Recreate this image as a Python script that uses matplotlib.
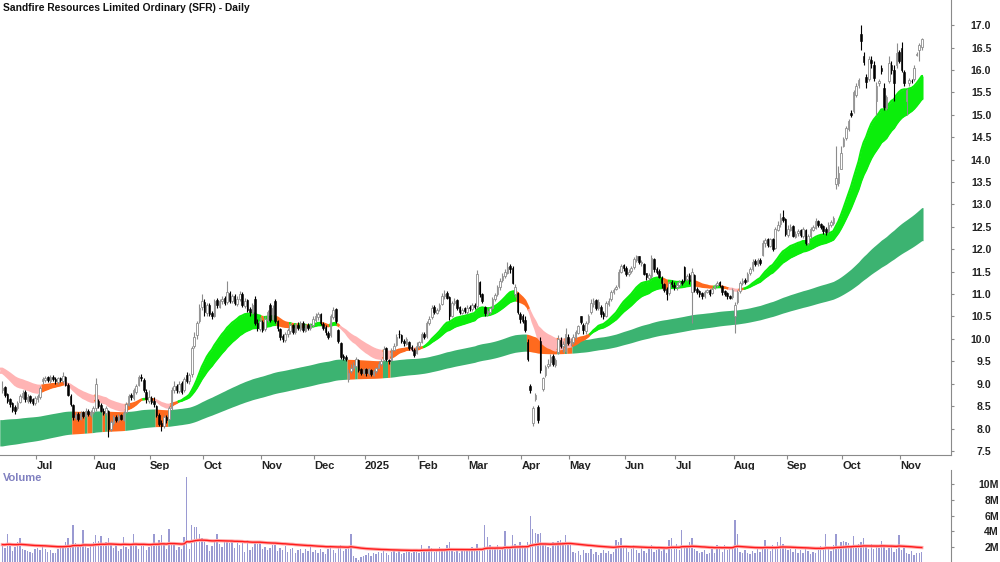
import numpy as np
import matplotlib
matplotlib.use("Agg")
import matplotlib.pyplot as plt

TITLE = "Sandfire Resources Limited Ordinary (SFR) - Daily"

# ---- daily OHLC (Jun-2024 .. Nov-2025), one row per month ----
open_px = [
 8.85, 8.92, 8.78, 8.65, 8.58, 8.48, 8.45, 8.60, 8.70, 8.82, 8.62, 8.72, 8.65, 8.56,
 8.66, 8.70, 9.05, 9.08, 9.14, 9.06, 9.16, 9.10, 9.04, 9.12, 9.05, 9.15, 8.98, 8.72, 8.52, 8.24, 8.32, 8.22, 8.36, 8.28, 8.40, 8.30, 8.36,
 8.45, 8.62, 8.52, 8.40, 8.34, 8.40, 8.00, 8.12, 8.26, 8.18, 8.30, 8.20, 8.38, 8.52, 8.74, 8.68, 8.82, 8.98, 9.16, 9.08, 8.82, 8.62,
 8.68, 8.62, 8.50, 8.30, 8.12, 8.06, 8.26, 8.22, 8.45, 8.86, 8.95, 8.84, 9.02, 8.85, 9.20, 9.05, 9.22, 9.85, 10.08, 10.40, 10.72,
 10.82, 10.58, 10.76, 10.58, 10.52, 10.86, 10.72, 10.84, 10.92, 10.82, 11.02, 10.84, 10.96, 10.78, 10.90, 11.00, 10.74, 10.86, 10.66, 10.58, 10.90, 10.36, 10.22,
 10.38, 10.22, 10.42, 10.75, 10.45, 10.85, 10.40, 10.22, 10.06, 9.98, 10.12, 10.18, 10.30, 10.16, 10.32, 10.22, 10.36, 10.18, 10.32, 10.24, 10.30,
 10.42, 10.48, 10.56, 10.34, 10.26, 10.14, 10.08, 10.48, 10.66, 10.20, 9.90, 9.62, 9.60, 9.10, 9.28, 9.36, 9.40, 9.52, 9.32, 9.24,
 9.32, 9.24, 9.30, 9.20, 9.28, 9.36, 9.44, 9.52, 9.80, 9.54, 9.52, 9.76, 9.86, 10.12, 10.08, 9.96, 9.88, 9.92, 9.82, 9.76, 9.68,
 9.84, 9.94, 10.12, 10.06, 10.36, 10.48, 10.72, 10.58, 10.66, 10.78, 10.96, 11.02, 10.94, 10.52, 10.80, 10.86, 10.72, 10.58, 10.68, 10.60,
 10.72, 10.66, 10.76, 10.74, 11.28, 11.00, 10.72, 10.56, 10.60, 10.70, 10.88, 11.00, 11.16, 11.32, 11.40, 11.48, 11.62, 11.58, 11.00, 11.02, 10.55,
 10.50, 10.42, 9.94, 8.95, 8.12, 8.65, 8.48, 9.95, 8.88, 9.20, 9.40, 9.48, 9.62, 9.42, 9.70, 9.98, 9.84, 9.72, 10.05,
 9.92, 9.94, 10.04, 10.14, 10.50, 10.30, 10.18, 10.38, 10.60, 10.78, 10.86, 10.68, 10.72, 10.58, 10.52, 10.78, 10.88, 11.04, 11.12, 11.18, 11.50, 11.64,
 11.58, 11.44, 11.52, 11.60, 11.76, 11.84, 11.70, 11.68, 11.46, 11.36, 11.40, 11.78, 11.56, 11.52, 11.36, 11.22, 11.12, 11.02, 11.26, 11.20,
 11.16, 11.20, 11.30, 11.60, 11.34, 11.42, 11.05, 11.42, 11.12, 11.06, 11.02, 10.96, 11.04, 11.10, 11.02, 11.14, 11.20, 11.28, 11.18, 11.06, 11.02, 10.96, 10.94,
 10.50, 10.82, 11.06, 11.24, 11.32, 11.30, 11.46, 11.56, 11.74, 11.66, 11.76, 11.88, 12.14, 12.22, 12.08, 12.22, 12.02, 12.44, 12.56, 12.72, 12.68,
 12.32, 12.44, 12.52, 12.28, 12.36, 12.42, 12.30, 12.42, 12.14, 12.30, 12.44, 12.48, 12.64, 12.56, 12.52, 12.46, 12.40, 12.54, 12.58, 13.45, 13.48, 13.80,
 14.30, 14.48, 14.68, 15.05, 15.08, 15.45, 15.66, 16.80, 16.30, 15.85, 15.80, 16.22, 16.10, 15.30, 15.70, 16.05, 15.60, 15.15, 15.75, 16.12, 16.00, 16.10, 16.40,
 16.50, 15.95, 15.30, 15.70, 15.76, 15.80, 16.33, 16.45, 16.52,
]
high_px = [
 9.05, 8.95, 8.80, 8.68, 8.60, 8.52, 8.62, 8.78, 8.85, 8.85, 8.76, 8.75, 8.68, 8.72,
 8.78, 8.95, 9.14, 9.18, 9.17, 9.20, 9.20, 9.14, 9.16, 9.15, 9.26, 9.18, 9.02, 8.78, 8.55, 8.36, 8.36, 8.40, 8.40, 8.45, 8.44, 8.42, 8.50,
 9.12, 8.66, 8.56, 8.45, 8.50, 8.42, 8.20, 8.30, 8.30, 8.32, 8.32, 8.40, 8.60, 8.78, 8.80, 8.90, 9.00, 9.20, 9.22, 9.12, 8.88, 8.86,
 8.72, 8.70, 8.52, 8.34, 8.18, 8.30, 8.30, 8.50, 8.92, 9.05, 9.00, 9.06, 9.06, 9.15, 9.26, 9.24, 9.84, 10.15, 10.40, 10.78, 11.00,
 10.88, 10.80, 10.80, 10.62, 10.90, 10.92, 10.90, 10.95, 10.96, 11.30, 11.06, 11.00, 11.00, 10.96, 11.06, 11.05, 10.92, 10.90, 10.72, 10.80, 10.95, 10.45, 10.48,
 10.42, 10.50, 10.65, 10.80, 10.75, 10.90, 10.42, 10.25, 10.10, 10.15, 10.24, 10.35, 10.34, 10.35, 10.38, 10.40, 10.40, 10.34, 10.36, 10.36, 10.52,
 10.58, 10.60, 10.58, 10.38, 10.30, 10.18, 10.55, 10.72, 10.68, 10.22, 9.92, 9.66, 9.64, 9.32, 9.45, 9.48, 9.60, 9.55, 9.36, 9.35,
 9.36, 9.36, 9.32, 9.32, 9.38, 9.50, 9.55, 9.84, 9.82, 9.56, 9.80, 9.90, 10.10, 10.20, 10.12, 10.00, 10.05, 9.95, 9.86, 9.80, 9.92,
 9.96, 10.16, 10.15, 10.40, 10.52, 10.76, 10.75, 10.70, 10.80, 11.02, 11.10, 11.06, 10.96, 10.85, 10.92, 10.90, 10.74, 10.70, 10.72, 10.76,
 10.76, 10.80, 10.80, 11.54, 11.30, 11.02, 10.74, 10.66, 10.72, 10.94, 11.02, 11.20, 11.36, 11.46, 11.56, 11.72, 11.68, 11.62, 11.22, 11.05, 10.60,
 10.55, 10.50, 10.00, 9.00, 8.50, 8.80, 8.52, 10.05, 9.16, 9.42, 9.55, 9.66, 9.66, 9.58, 10.08, 10.05, 9.95, 10.25, 10.12,
 10.02, 10.10, 10.20, 10.32, 10.52, 10.36, 10.40, 10.56, 10.90, 10.92, 10.88, 10.88, 10.75, 10.62, 10.84, 10.92, 11.10, 11.14, 11.20, 11.57, 11.68, 11.68,
 11.62, 11.56, 11.62, 11.82, 11.88, 11.86, 11.76, 11.70, 11.48, 11.46, 11.87, 11.80, 11.60, 11.55, 11.40, 11.25, 11.16, 11.30, 11.31, 11.26,
 11.26, 11.32, 11.34, 11.62, 11.45, 11.46, 11.58, 11.45, 11.15, 11.10, 11.05, 11.10, 11.12, 11.12, 11.16, 11.22, 11.30, 11.30, 11.20, 11.08, 11.04, 10.98, 11.14,
 10.82, 11.10, 11.30, 11.36, 11.35, 11.50, 11.60, 11.78, 11.78, 11.80, 11.80, 12.20, 12.26, 12.26, 12.26, 12.25, 12.50, 12.62, 12.80, 12.87, 12.70,
 12.54, 12.56, 12.54, 12.40, 12.46, 12.45, 12.50, 12.45, 12.35, 12.50, 12.54, 12.69, 12.66, 12.58, 12.55, 12.50, 12.60, 12.65, 12.75, 14.30, 13.85, 14.30,
 14.50, 14.75, 14.90, 15.10, 15.56, 15.70, 15.82, 17.00, 16.40, 15.90, 16.30, 16.30, 16.20, 15.72, 15.80, 16.10, 15.70, 15.45, 16.30, 16.20, 16.10, 16.60, 16.45,
 16.62, 16.00, 15.60, 15.82, 15.80, 16.10, 16.40, 16.60, 16.72,
]
low_px = [
 8.80, 8.70, 8.58, 8.48, 8.38, 8.33, 8.42, 8.56, 8.65, 8.60, 8.58, 8.58, 8.52, 8.52,
 8.60, 8.66, 9.00, 9.04, 9.04, 9.02, 9.06, 9.00, 9.00, 9.04, 9.02, 8.95, 8.72, 8.50, 8.18, 8.20, 8.16, 8.20, 8.24, 8.25, 8.28, 8.26, 8.32,
 8.40, 8.45, 8.36, 8.30, 8.30, 7.82, 7.95, 8.08, 8.15, 8.14, 8.18, 8.16, 8.35, 8.50, 8.64, 8.64, 8.78, 8.95, 9.05, 8.82, 8.58, 8.58,
 8.55, 8.48, 8.25, 8.05, 7.95, 8.02, 8.12, 8.18, 8.42, 8.80, 8.80, 8.80, 8.78, 8.82, 9.02, 9.00, 9.15, 9.80, 10.00, 10.35, 10.65,
 10.52, 10.52, 10.50, 10.45, 10.48, 10.70, 10.68, 10.78, 10.75, 10.78, 10.80, 10.80, 10.76, 10.74, 10.85, 10.72, 10.70, 10.60, 10.52, 10.55, 10.32, 10.18, 10.18,
 10.15, 10.18, 10.38, 10.38, 10.42, 10.36, 10.18, 9.98, 9.92, 9.94, 10.05, 10.12, 10.10, 10.12, 10.20, 10.18, 10.15, 10.15, 10.20, 10.20, 10.26,
 10.38, 10.42, 10.30, 10.20, 10.08, 10.00, 10.05, 10.45, 10.36, 9.90, 9.56, 9.52, 9.50, 9.04, 9.24, 9.30, 9.38, 9.26, 9.20, 9.20,
 9.18, 9.20, 9.18, 9.18, 9.24, 9.34, 9.40, 9.50, 9.50, 9.45, 9.50, 9.72, 9.84, 10.02, 9.90, 9.85, 9.86, 9.76, 9.74, 9.60, 9.66,
 9.80, 9.90, 10.00, 10.02, 10.30, 10.45, 10.55, 10.55, 10.62, 10.75, 10.90, 10.88, 10.42, 10.48, 10.75, 10.65, 10.56, 10.55, 10.58, 10.56,
 10.62, 10.62, 10.66, 10.70, 10.94, 10.80, 10.52, 10.52, 10.56, 10.66, 10.84, 10.96, 11.10, 11.28, 11.36, 11.45, 11.48, 11.22, 10.94, 10.55, 10.35,
 10.35, 10.15, 9.50, 8.80, 8.05, 8.62, 8.12, 9.25, 8.84, 9.15, 9.35, 9.40, 9.40, 9.38, 9.66, 9.80, 9.70, 9.68, 9.86,
 9.85, 9.88, 10.00, 10.10, 10.34, 10.12, 10.12, 10.34, 10.56, 10.72, 10.64, 10.64, 10.48, 10.45, 10.48, 10.74, 10.84, 11.00, 11.08, 11.14, 11.46, 11.52,
 11.40, 11.40, 11.48, 11.56, 11.72, 11.68, 11.62, 11.42, 11.32, 11.31, 11.35, 11.50, 11.45, 11.35, 11.13, 11.05, 10.87, 10.98, 11.16, 11.10,
 11.10, 11.16, 11.20, 11.28, 11.30, 11.22, 10.35, 11.05, 11.00, 10.94, 10.90, 10.92, 11.02, 10.96, 11.00, 11.12, 11.16, 11.15, 10.98, 10.95, 10.90, 10.88, 10.90,
 10.13, 10.78, 11.02, 11.20, 11.22, 11.26, 11.42, 11.52, 11.62, 11.62, 11.65, 11.86, 12.06, 12.05, 12.04, 11.96, 12.00, 12.40, 12.50, 12.60, 12.30,
 12.28, 12.40, 12.28, 12.26, 12.30, 12.28, 12.26, 12.09, 12.10, 12.26, 12.40, 12.45, 12.50, 12.45, 12.35, 12.32, 12.36, 12.50, 12.55, 13.35, 13.40, 13.78,
 14.28, 14.44, 14.64, 14.95, 15.04, 15.40, 15.60, 16.44, 16.10, 15.60, 15.75, 16.05, 15.75, 15.00, 15.65, 15.90, 15.10, 15.10, 15.70, 15.90, 15.30, 16.05, 16.15,
 15.95, 15.65, 15.00, 15.65, 15.70, 15.75, 16.30, 16.20, 16.45,
]
close_px = [
 8.90, 8.75, 8.62, 8.55, 8.42, 8.40, 8.58, 8.72, 8.80, 8.65, 8.70, 8.62, 8.58, 8.68,
 8.72, 8.90, 9.10, 9.12, 9.08, 9.15, 9.10, 9.05, 9.12, 9.08, 9.18, 8.98, 8.75, 8.55, 8.25, 8.30, 8.22, 8.35, 8.28, 8.40, 8.32, 8.38, 8.45,
 9.00, 8.50, 8.40, 8.35, 8.45, 7.98, 8.15, 8.25, 8.20, 8.28, 8.22, 8.35, 8.55, 8.72, 8.70, 8.85, 8.95, 9.15, 9.12, 8.85, 8.65, 8.70,
 8.60, 8.55, 8.30, 8.10, 8.05, 8.25, 8.20, 8.45, 8.85, 8.95, 8.85, 9.00, 8.82, 9.10, 9.05, 9.20, 9.80, 10.05, 10.35, 10.70, 10.85,
 10.60, 10.75, 10.55, 10.50, 10.85, 10.75, 10.85, 10.90, 10.80, 11.05, 10.85, 10.95, 10.80, 10.90, 11.00, 10.75, 10.85, 10.65, 10.60, 10.75, 10.35, 10.25, 10.40,
 10.20, 10.45, 10.60, 10.42, 10.70, 10.40, 10.25, 10.05, 10.00, 10.10, 10.20, 10.30, 10.15, 10.30, 10.25, 10.35, 10.20, 10.30, 10.25, 10.32, 10.45,
 10.50, 10.55, 10.35, 10.25, 10.15, 10.05, 10.50, 10.65, 10.40, 9.95, 9.60, 9.58, 9.55, 9.25, 9.35, 9.42, 9.55, 9.30, 9.25, 9.30,
 9.25, 9.32, 9.22, 9.28, 9.35, 9.45, 9.50, 9.78, 9.55, 9.50, 9.75, 9.85, 10.05, 10.10, 9.95, 9.90, 10.00, 9.80, 9.78, 9.65, 9.85,
 9.92, 10.10, 10.05, 10.35, 10.45, 10.70, 10.60, 10.65, 10.75, 10.95, 11.00, 10.92, 10.50, 10.80, 10.85, 10.70, 10.60, 10.65, 10.62, 10.70,
 10.68, 10.75, 10.72, 11.45, 11.00, 10.85, 10.58, 10.62, 10.68, 10.90, 10.98, 11.15, 11.30, 11.40, 11.50, 11.60, 11.55, 11.25, 11.15, 10.60, 10.45,
 10.40, 10.20, 9.55, 8.85, 8.45, 8.75, 8.20, 9.30, 9.12, 9.38, 9.45, 9.60, 9.45, 9.52, 10.00, 9.85, 9.88, 10.10, 9.90,
 9.95, 10.05, 10.15, 10.28, 10.38, 10.20, 10.35, 10.50, 10.80, 10.85, 10.70, 10.82, 10.55, 10.50, 10.80, 10.85, 11.05, 11.10, 11.15, 11.50, 11.62, 11.58,
 11.45, 11.50, 11.58, 11.78, 11.85, 11.72, 11.70, 11.45, 11.38, 11.42, 11.80, 11.55, 11.50, 11.38, 11.25, 11.10, 11.00, 11.25, 11.22, 11.15,
 11.20, 11.28, 11.25, 11.32, 11.40, 11.30, 11.50, 11.10, 11.05, 11.00, 10.95, 11.05, 11.08, 11.00, 11.12, 11.18, 11.25, 11.20, 11.05, 11.00, 10.95, 10.92, 11.10,
 10.75, 11.05, 11.25, 11.30, 11.28, 11.45, 11.55, 11.72, 11.68, 11.75, 11.70, 12.15, 12.20, 12.10, 12.22, 12.00, 12.45, 12.55, 12.70, 12.65, 12.35,
 12.45, 12.50, 12.30, 12.35, 12.40, 12.32, 12.45, 12.15, 12.30, 12.45, 12.50, 12.62, 12.55, 12.50, 12.40, 12.38, 12.55, 12.60, 12.70, 13.60, 13.70, 14.15,
 14.45, 14.70, 14.85, 15.00, 15.50, 15.65, 15.78, 16.65, 16.18, 15.72, 16.25, 16.15, 15.82, 15.65, 15.75, 15.98, 15.18, 15.40, 16.15, 16.00, 15.70, 16.38, 16.20,
 16.00, 15.70, 15.55, 15.78, 15.75, 16.05, 16.35, 16.55, 16.68,
]
volume_m = [
 2.5, 1.9, 3.7, 2.3, 1.5, 2.0, 2.6, 3.2, 1.8, 1.6, 1.5, 1.4, 1.2, 1.7,
 1.9, 1.6, 2.0, 1.8, 1.4, 1.6, 1.3, 1.2, 1.7, 1.9, 2.1, 2.6, 3.1, 2.2, 4.8, 2.5, 2.3, 2.0, 4.2, 2.4, 1.9, 2.2, 2.7,
 3.5, 2.8, 3.4, 2.1, 2.6, 3.2, 2.4, 1.9, 2.2, 1.5, 1.8, 3.3, 2.0, 1.7, 2.3, 3.7, 2.4, 1.8, 2.5, 2.2, 1.6, 2.0,
 2.4, 3.6, 2.2, 2.9, 3.5, 2.3, 1.8, 4.3, 2.5, 2.2, 1.6, 2.0, 1.7, 3.3, 10.9, 1.8, 4.8, 4.5, 4.6, 3.7, 3.2,
 2.6, 2.2, 1.5, 2.1, 2.8, 3.7, 2.4, 2.0, 2.6, 2.9, 2.5, 2.6, 1.9, 2.7, 2.2, 2.5, 1.4, 2.9, 1.6, 2.0, 2.7, 2.4, 2.8,
 1.7, 2.0, 1.6, 1.9, 2.2, 2.3, 1.5, 1.9, 1.6, 2.1, 1.4, 1.7, 1.9, 1.2, 1.6, 1.8, 1.3, 1.7, 1.5, 2.0, 1.4,
 1.6, 1.2, 1.8, 1.4, 1.1, 1.7, 2.3, 1.6, 1.3, 2.0, 2.2, 1.5, 1.7, 1.9, 3.6, 0.9, 0.6, 0.4, 0.7, 0.8,
 1.0, 1.2, 0.9, 1.3, 1.1, 1.4, 1.2, 1.5, 1.3, 1.0, 1.4, 1.6, 1.2, 1.5, 1.1, 1.3, 1.6, 1.4, 1.2, 1.7, 1.5,
 1.3, 2.2, 1.8, 1.6, 2.1, 1.9, 1.4, 1.7, 2.0, 1.5, 1.8, 2.3, 2.6, 1.6, 1.4, 1.9, 1.3, 1.7, 1.5, 1.8,
 1.6, 2.0, 1.5, 2.4, 1.9, 1.7, 4.8, 3.3, 2.2, 1.8, 1.7, 2.3, 1.6, 1.9, 4.0, 2.1, 1.8, 3.5, 2.4, 2.0, 2.6,
 2.2, 1.9, 2.7, 6.0, 4.3, 3.8, 3.7, 3.8, 2.5, 2.2, 2.0, 1.9, 2.6, 2.4, 2.8, 2.9, 2.7, 3.5, 2.5,
 2.6, 1.4, 1.2, 1.5, 1.0, 1.6, 1.3, 1.2, 1.7, 1.1, 1.4, 1.0, 1.3, 1.6, 1.2, 1.5, 1.1, 1.4, 2.9, 2.6, 3.1, 2.2,
 2.0, 1.4, 1.8, 2.3, 1.6, 1.2, 1.9, 1.5, 1.3, 1.7, 2.2, 1.4, 1.6, 2.0, 1.5, 1.8, 1.3, 2.9, 3.1, 2.0,
 2.4, 1.6, 4.2, 2.3, 1.9, 2.6, 3.2, 1.8, 1.5, 1.2, 1.4, 1.6, 1.1, 1.3, 1.7, 1.2, 2.2, 1.9, 1.4, 2.3, 1.6, 1.8, 2.0,
 5.5, 3.7, 1.4, 1.2, 1.6, 1.3, 1.1, 1.5, 1.3, 1.7, 1.4, 2.0, 2.9, 1.8, 1.5, 2.2, 1.7, 2.6, 3.3, 2.4, 1.9,
 1.6, 1.8, 1.4, 1.7, 1.3, 1.6, 1.2, 1.9, 1.5, 1.1, 1.4, 1.3, 1.8, 2.1, 1.6, 3.6, 1.9, 1.5, 2.3, 3.6, 2.0, 2.6,
 2.8, 2.7, 2.5, 1.9, 3.4, 2.2, 2.4, 2.6, 3.1, 2.0, 1.8, 2.4, 1.7, 2.3, 1.9, 2.8, 2.1, 1.6, 1.9, 2.2, 1.4, 1.8, 3.5,
 1.6, 2.0, 1.3, 1.1, 1.5, 1.0, 1.2, 1.3, 1.4,
]

# month axis: first trading day index of each month and its label
month_labels = ["Jul", "Aug", "Sep", "Oct", "Nov", "Dec", "2025", "Feb", "Mar", "Apr",
                "May", "Jun", "Jul", "Aug", "Sep", "Oct", "Nov"]
month_start = [14, 37, 59, 80, 103, 124, 144, 165, 185, 206, 225, 247, 267, 290, 311, 333, 356]

price_ticks = [7.5, 8.0, 8.5, 9.0, 9.5, 10.0, 10.5, 11.0, 11.5, 12.0, 12.5, 13.0,
               13.5, 14.0, 14.5, 15.0, 15.5, 16.0, 16.5, 17.0]
volume_ticks = [2, 4, 6, 8, 10]
volume_tick_labels = ["2M", "4M", "6M", "8M", "10M"]

# band settings (EMA spans, starting levels read at the chart's left edge)
short_fast_span, short_slow_span = 21, 36
short_fast_start, short_slow_start = 9.28, 9.36
long_fast_span, long_slow_span = 150, 220
long_fast_start, long_slow_start = 8.19, 7.60
vol_avg_span, vol_avg_start = 60, 2.3

# ------------------------------------------------------------------
o = np.array(open_px); h = np.array(high_px); l = np.array(low_px); c = np.array(close_px)
v = np.array(volume_m)
n = len(c)
assert len(o) == n and len(h) == n and len(l) == n and len(v) == n, (len(o), len(h), len(l), len(c), len(v))
h = np.maximum(h, np.maximum(o, c))
l = np.minimum(l, np.minimum(o, c))
x = np.arange(n)


def ema(vals, span, start):
    a = 2.0 / (span + 1.0)
    out = np.empty(len(vals))
    prev = start
    for k, val in enumerate(vals):
        prev = prev + a * (val - prev)
        out[k] = prev
    return out


fast = ema(c, short_fast_span, short_fast_start)
slow = ema(c, short_slow_span, short_slow_start)
ltop = ema(c, long_fast_span, long_fast_start)
lbot = ema(c, long_slow_span, long_slow_start)
vavg = ema(v, vol_avg_span, vol_avg_start)

GREEN_L = "#3CB371"
ORANGE = "#FF6A1E"
GREEN_S = "#0BEE0B"
PINK = "#FFB4B4"

prev_slow = np.concatenate([[short_slow_start], slow[:-1]])
rising = slow >= prev_slow
above = fast >= slow
s_col = np.where(above & rising, GREEN_S, np.where(~above & ~rising, PINK, ORANGE))
l_col = np.where(c < ltop, ORANGE, GREEN_L)


def fill_runs(ax, lo, hi, cols, z, edge_lw=0.0):
    i = 0
    while i < n:
        j = i
        while j + 1 < n and cols[j + 1] == cols[i]:
            j += 1
        a0 = i - 0.5 if i > 0 else -1.0
        a1 = j + 0.5
        xx = np.unique(np.concatenate([[a0], np.arange(i, j + 1, dtype=float), [a1]]))
        lo_i = np.interp(xx, x, lo)
        hi_i = np.interp(xx, x, hi)
        ax.fill_between(xx, lo_i, hi_i, color=cols[i], lw=0, zorder=z)
        if edge_lw:
            ax.plot(xx, lo_i, color=cols[i], lw=edge_lw, zorder=z, solid_capstyle="butt")
            ax.plot(xx, hi_i, color=cols[i], lw=edge_lw, zorder=z, solid_capstyle="butt")
        i = j + 1


plt.rcParams["font.family"] = ["Liberation Sans", "DejaVu Sans"]

W, H = 1000, 562
fig = plt.figure(figsize=(W / 100, H / 100), dpi=100)

px = lambda p: p / W
py = lambda p: p / H
AX_R = 951
ax = fig.add_axes([0, py(H - 455), px(AX_R), py(455)])
axv = fig.add_axes([0, 0, px(AX_R), py(92)])

xlo = (0 - 2.3) / 2.526
xhi = (AX_R - 2.3) / 2.526
for a in (ax, axv):
    a.set_xlim(xlo, xhi)
    a.set_facecolor("white")
    for s in ("top", "left"):
        a.spines[s].set_visible(False)
    a.spines["right"].set_color("#8a8a8a")
    a.spines["bottom"].set_color("#8a8a8a")
    a.yaxis.tick_right()

ax.set_ylim(7.41, 17.56)

# bands
fill_runs(ax, lbot, ltop, l_col, 1)
fill_runs(ax, np.minimum(fast, slow), np.maximum(fast, slow), s_col, 2, edge_lw=1.6)

# candles
up = c >= o
ax.vlines(x[up], l[up], h[up], color="#8c8c8c", lw=0.8, zorder=5)
ax.vlines(x[~up], l[~up], h[~up], color="black", lw=0.8, zorder=5)
ax.bar(x[up], np.maximum(c[up] - o[up], 0.01), bottom=o[up], width=0.62,
       facecolor="white", edgecolor="#8c8c8c", lw=0.6, zorder=6)
ax.bar(x[~up], np.maximum(o[~up] - c[~up], 0.01), bottom=c[~up], width=0.62,
       facecolor="black", edgecolor="black", lw=0.4, zorder=6)

# price axis
ax.set_yticks(price_ticks)
ax.set_yticklabels([f"{t:.1f}" for t in price_ticks])
ax.tick_params(axis="y", length=2.5, width=0.8, color="#8a8a8a", pad=26.5,
               labelsize=7.6, labelcolor="#222222")
for t in ax.get_yticklabels():
    t.set_ha("right")
    t.set_fontweight("bold")

ax.set_xticks([m - 0.5 for m in month_start])
ax.set_xticklabels(month_labels)
ax.tick_params(axis="x", length=3, width=0.8, color="#8a8a8a", pad=1.5,
               labelsize=8, labelcolor="#222222")
for t in ax.get_xticklabels():
    t.set_ha("left")
    t.set_fontweight("bold")

# volume
axv.bar(x, v, width=0.55, color="#9A9AD2", zorder=2)
axv.plot(x, vavg, color="#FFAAAA", lw=2.4, zorder=3)
axv.plot(x, vavg, color="#FF1A1A", lw=1.0, zorder=4)
axv.set_ylim(0.09, 11.81)
axv.set_yticks(volume_ticks)
axv.set_yticklabels(volume_tick_labels)
axv.tick_params(axis="y", length=2.5, width=0.8, color="#8a8a8a", pad=32,
                labelsize=7.6, labelcolor="#222222")
for t in axv.get_yticklabels():
    t.set_ha("right")
    t.set_fontweight("bold")
axv.set_xticks([])
axv.spines["bottom"].set_visible(False)

fig.text(px(3), 1 - py(8), TITLE, ha="left", va="center", fontsize=7.4,
         fontweight="bold", color="#111111")
fig.text(px(3), 1 - py(478), "Volume", ha="left", va="center", fontsize=8,
         fontweight="bold", color="#8080C0")

fig.savefig("out.png", dpi=100)
